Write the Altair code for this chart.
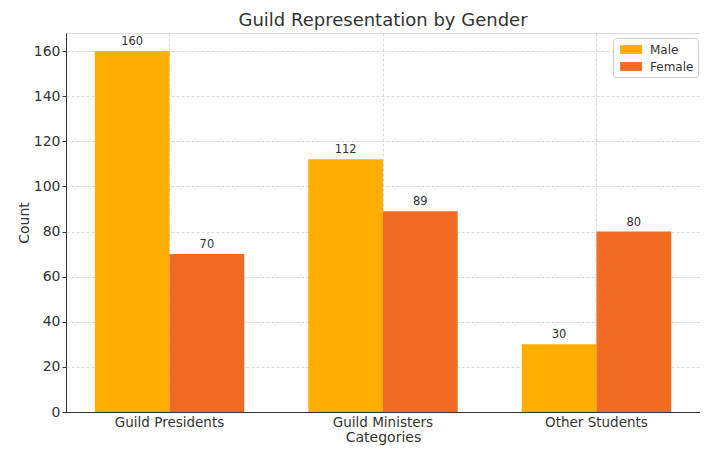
import altair as alt
import pandas as pd

categories = ["Guild Presidents", "Guild Ministers", "Other Students"]
male = [160, 112, 30]
female = [70, 89, 80]
genders = ["Male", "Female"]
colors = ["#FFAE00", "#F26B22"]
y_ticks = [0, 20, 40, 60, 80, 100, 120, 140, 160]

rows = []
for c, m, f in zip(categories, male, female):
    rows.append({"Category": c, "Gender": "Male", "Count": m})
    rows.append({"Category": c, "Gender": "Female", "Count": f})
df = pd.DataFrame(rows)

FONT = "DejaVu Sans"

x_enc = alt.X(
    "Category:N",
    sort=categories,
    scale=alt.Scale(paddingInner=0.3, paddingOuter=0.135),
    axis=alt.Axis(
        title="Categories",
        labelAngle=0,
        labelFontSize=13.5,
        titleFontSize=14,
        titleFontWeight="normal",
        labelColor="#333333",
        titleColor="#333333",
        labelPadding=3,
        titlePadding=2,
        ticks=False,
        domainColor="#333333",
        grid=True,
        gridColor="#d0d0d0",
        gridDash=[3, 2],
        gridWidth=0.8,
        bandPosition=0.5,
        labelFont=FONT,
        titleFont=FONT,
    ),
)
xoff = alt.XOffset("Gender:N", sort=genders, scale=alt.Scale(paddingInner=0, paddingOuter=0))
y_enc = alt.Y(
    "Count:Q",
    scale=alt.Scale(domain=[0, 168], nice=False),
    axis=alt.Axis(
        title="Count",
        values=y_ticks,
        labelFontSize=14,
        titleFontSize=14,
        titleFontWeight="normal",
        labelColor="#333333",
        titleColor="#333333",
        labelPadding=2,
        titlePadding=2,
        tickSize=4,
        tickColor="#333333",
        domainColor="#333333",
        grid=True,
        gridColor="#d0d0d0",
        gridDash=[3, 2],
        gridWidth=0.8,
        labelFont=FONT,
        titleFont=FONT,
    ),
)

color_enc = alt.Color(
    "Gender:N",
    sort=genders,
    scale=alt.Scale(domain=genders, range=colors),
    legend=alt.Legend(
        title=None,
        orient="none",
        legendX=547,
        legendY=5,
        fillColor="white",
        strokeColor="#cccccc",
        cornerRadius=3,
        padding=4,
        labelFontSize=12,
        labelFont=FONT,
        labelColor="#333333",
        symbolType="M-0.6,-0.6H2.4V0.6H-0.6Z",
        symbolSize=215,
        symbolStrokeWidth=0,
        symbolOpacity=1,
        labelOffset=18,
        rowPadding=3,
    ),
)

bars = alt.Chart(df).mark_bar(opacity=1).encode(
    x=x_enc, xOffset=xoff, y=y_enc, color=color_enc
)

labels = alt.Chart(df).mark_text(
    baseline="bottom", dy=-4, fontSize=11.5, font=FONT, color="#333333"
).encode(
    x=alt.X("Category:N", sort=categories),
    xOffset=alt.XOffset("Gender:N", sort=genders),
    y=alt.Y("Count:Q"),
    text=alt.Text("Count:Q"),
)

chart = (
    alt.layer(bars, labels)
    .properties(
        width=634,
        height=379,
        title=alt.TitleParams(
            "Guild Representation by Gender",
            fontSize=18,
            font=FONT,
            fontWeight="normal",
            color="#333333",
            anchor="middle",
            offset=3,
        ),
        autosize=alt.AutoSizeParams(type="none"),
        padding={"left": 58, "top": 25, "right": 0, "bottom": 34},
    )
    .configure_view(stroke=None)
    .configure(background="white")
)

chart.save("out.html", embed_options={"renderer": "svg", "actions": False})
